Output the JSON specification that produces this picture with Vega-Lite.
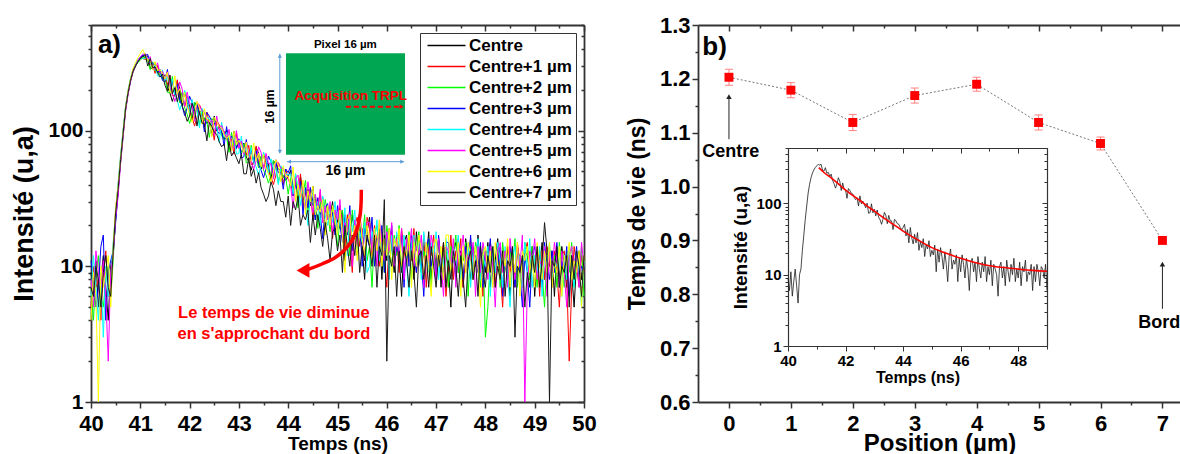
{
"$schema": "https://vega.github.io/schema/vega-lite/v6.json",
"background": "white",
"padding": {"left": 10, "top": 14, "right": 0, "bottom": 0},
"bounds": "flush",
"spacing": 114,
"resolve": {"scale": {"color": "independent"}, "legend": {"color": "independent"}},
"config": {
 "font": "Liberation Sans",
 "view": {"stroke": null},
 "axis": {"grid": false, "labelFlush": false, "labelOverlap": false, "domainColor": "#333333", "tickColor": "#333333", "domainWidth": 1.8, "tickWidth": 1.5, "labelColor": "black", "titleColor": "black", "labelFontWeight": "bold", "titleFontWeight": "bold", "labelFont": "Liberation Sans", "titleFont": "Liberation Sans", "labelPadding": 2},
 "text": {"font": "Liberation Sans", "fontWeight": "bold", "color": "black"}
},
"datasets": {
"curves": [
{"t":40,"c0":9,"c1":5,"c2":7,"c3":11,"c4":6,"c5":8,"c6":4,"c7":7},
{"t":40.05,"c0":6,"c1":10,"c2":4,"c3":8,"c4":12,"c5":5,"c6":9,"c7":6},
{"t":40.1,"c0":11,"c1":7,"c2":9,"c3":5,"c4":7,"c5":13,"c6":6,"c7":10},
{"t":40.15,"c0":5,"c1":8,"c2":12,"c3":7,"c4":4,"c5":9,"c6":1,"c7":8},
{"t":40.2,"c0":8,"c1":4,"c2":6,"c3":14,"c4":9,"c5":7,"c6":10,"c7":5},
{"t":40.25,"c0":12,"c1":9,"c2":5,"c3":17,"c4":3,"c5":11,"c6":7,"c7":9},
{"t":40.3,"c0":7,"c1":13,"c2":8,"c3":4,"c4":10,"c5":6,"c6":9,"c7":12},
{"t":40.35,"c0":4,"c1":6,"c2":10,"c3":9,"c4":6,"c5":2,"c6":12,"c7":7},
{"t":40.4,"c0":10,"c1":8,"c2":6,"c3":11,"c4":8,"c5":9,"c6":5,"c7":6},
{"t":40.45,"c0":12,"c1":14,"c2":11,"c3":13,"c4":15,"c5":12,"c6":14,"c7":13},
{"t":40.5,"c0":22,"c1":26,"c2":24,"c3":21,"c4":25,"c5":23,"c6":27,"c7":25},
{"t":40.55,"c0":36,"c1":40,"c2":38,"c3":35,"c4":41,"c5":33,"c6":39,"c7":37},
{"t":40.6,"c0":60,"c1":64,"c2":58,"c3":62,"c4":66,"c5":57,"c6":63,"c7":61},
{"t":40.65,"c0":92,"c1":98,"c2":90,"c3":96,"c4":100,"c5":88,"c6":97,"c7":94},
{"t":40.7,"c0":140,"c1":148,"c2":142,"c3":145,"c4":150,"c5":138,"c6":147,"c7":144},
{"t":40.75,"c0":186,"c1":194,"c2":188,"c3":190,"c4":197,"c5":183,"c6":195,"c7":189},
{"t":40.8,"c0":230,"c1":238,"c2":232,"c3":236,"c4":242,"c5":228,"c6":240,"c7":233},
{"t":40.85,"c0":268,"c1":278,"c2":272,"c3":275,"c4":282,"c5":270,"c6":285,"c7":274},
{"t":40.9,"c0":296,"c1":305,"c2":298,"c3":302,"c4":310,"c5":300,"c6":315,"c7":299},
{"t":40.95,"c0":320,"c1":330,"c2":318,"c3":326,"c4":335,"c5":328,"c6":345,"c7":322},
{"t":41,"c0":338,"c1":345,"c2":330,"c3":342,"c4":352,"c5":350,"c6":370,"c7":340},
{"t":41.05,"c0":355,"c1":340,"c2":346,"c3":360,"c4":338,"c5":365,"c6":395,"c7":352},
{"t":41.1,"c0":345,"c1":335,"c2":350,"c3":358,"c4":342,"c5":370,"c6":360,"c7":365},
{"t":41.15,"c0":355,"c1":330,"c2":329,"c3":365,"c4":347,"c5":335,"c6":331,"c7":299},
{"t":41.2,"c0":293,"c1":309,"c2":281,"c3":311,"c4":319,"c5":351,"c6":330,"c7":340},
{"t":41.25,"c0":284,"c1":308,"c2":321,"c3":315,"c4":293,"c5":290,"c6":282,"c7":290},
{"t":41.3,"c0":318,"c1":264,"c2":275,"c3":290,"c4":307,"c5":282,"c6":322,"c7":294},
{"t":41.35,"c0":265,"c1":302,"c2":279,"c3":267,"c4":254,"c5":316,"c6":276,"c7":269},
{"t":41.4,"c0":274,"c1":260,"c2":258,"c3":282,"c4":249,"c5":265,"c6":282,"c7":248},
{"t":41.45,"c0":240,"c1":265,"c2":238,"c3":234,"c4":280,"c5":273,"c6":260,"c7":261},
{"t":41.5,"c0":258,"c1":245,"c2":252,"c3":229,"c4":235,"c5":240,"c6":241,"c7":216},
{"t":41.55,"c0":210,"c1":218,"c2":191,"c3":282,"c4":250,"c5":271,"c6":269,"c7":195},
{"t":41.6,"c0":190,"c1":253,"c2":190,"c3":207,"c4":198,"c5":210,"c6":192,"c7":257},
{"t":41.65,"c0":164,"c1":181,"c2":251,"c3":230,"c4":240,"c5":190,"c6":192,"c7":187},
{"t":41.7,"c0":188,"c1":181,"c2":184,"c3":183,"c4":185,"c5":164,"c6":253,"c7":207},
{"t":41.75,"c0":230,"c1":237,"c2":203,"c3":219,"c4":167,"c5":186,"c6":185,"c7":163},
{"t":41.8,"c0":204,"c1":172,"c2":160,"c3":168,"c4":142,"c5":228,"c6":203,"c7":196},
{"t":41.85,"c0":152,"c1":190,"c2":192,"c3":151,"c4":162,"c5":202,"c6":160,"c7":151},
{"t":41.9,"c0":194,"c1":149,"c2":147,"c3":129,"c4":198,"c5":151,"c6":192,"c7":136},
{"t":41.95,"c0":159,"c1":179,"c2":132,"c3":147,"c4":176,"c5":192,"c6":148,"c7":117},
{"t":42,"c0":155,"c1":138,"c2":113,"c3":179,"c4":131,"c5":158,"c6":132,"c7":128},
{"t":42.05,"c0":118,"c1":126,"c2":131,"c3":162,"c4":170,"c5":156,"c6":115,"c7":159},
{"t":42.1,"c0":162,"c1":108,"c2":162,"c3":122,"c4":141,"c5":117,"c6":132,"c7":143},
{"t":42.15,"c0":152,"c1":125,"c2":146,"c3":158,"c4":139,"c5":163,"c6":164,"c7":108},
{"t":42.2,"c0":139,"c1":155,"c2":110,"c3":131,"c4":105,"c5":152,"c6":148,"c7":138},
{"t":42.25,"c0":136,"c1":141,"c2":143,"c3":130,"c4":146,"c5":140,"c6":112,"c7":114},
{"t":42.3,"c0":121,"c1":106,"c2":119,"c3":98,"c4":136,"c5":136,"c6":145,"c7":112},
{"t":42.35,"c0":113,"c1":137,"c2":117,"c3":136,"c4":125,"c5":121,"c6":121,"c7":84},
{"t":42.4,"c0":120,"c1":114,"c2":89,"c3":128,"c4":122,"c5":113,"c6":119,"c7":115},
{"t":42.45,"c0":92,"c1":113,"c2":123,"c3":117,"c4":109,"c5":120,"c6":90,"c7":107},
{"t":42.5,"c0":128,"c1":85,"c2":115,"c3":114,"c4":102,"c5":92,"c6":125,"c7":97},
{"t":42.55,"c0":99,"c1":118,"c2":106,"c3":101,"c4":107,"c5":128,"c6":117,"c7":94},
{"t":42.6,"c0":108,"c1":111,"c2":103,"c3":95,"c4":82,"c5":100,"c6":107,"c7":83},
{"t":42.65,"c0":97,"c1":102,"c2":92,"c3":100,"c4":115,"c5":109,"c6":104,"c7":76},
{"t":42.7,"c0":87,"c1":99,"c2":85,"c3":77,"c4":89,"c5":97,"c6":93,"c7":80},
{"t":42.75,"c0":101,"c1":88,"c2":90,"c3":107,"c4":97,"c5":87,"c6":87,"c7":60},
{"t":42.8,"c0":73,"c1":82,"c2":69,"c3":83,"c4":87,"c5":102,"c6":92,"c7":83},
{"t":42.85,"c0":74,"c1":87,"c2":97,"c3":91,"c4":79,"c5":74,"c6":71,"c7":65},
{"t":42.9,"c0":99,"c1":67,"c2":76,"c3":82,"c4":92,"c5":75,"c6":99,"c7":70},
{"t":42.95,"c0":74,"c1":95,"c2":84,"c3":74,"c4":67,"c5":100,"c6":78,"c7":63},
{"t":43,"c0":83,"c1":74,"c2":75,"c3":87,"c4":68,"c5":74,"c6":85,"c7":57},
{"t":43.05,"c0":67,"c1":82,"c2":68,"c3":63,"c4":91,"c5":84,"c6":77,"c7":67},
{"t":43.1,"c0":81,"c1":73,"c2":80,"c3":64,"c4":67,"c5":67,"c6":69,"c7":48},
{"t":43.15,"c0":64,"c1":66,"c2":58,"c3":86,"c4":76,"c5":82,"c6":82,"c7":48},
{"t":43.2,"c0":59,"c1":78,"c2":59,"c3":64,"c4":61,"c5":65,"c6":59,"c7":63},
{"t":43.25,"c0":51,"c1":56,"c2":78,"c3":72,"c4":75,"c5":59,"c6":60,"c7":46},
{"t":43.3,"c0":60,"c1":58,"c2":59,"c3":58,"c4":59,"c5":52,"c6":81,"c7":52},
{"t":43.35,"c0":75,"c1":77,"c2":66,"c3":71,"c4":54,"c5":60,"c6":60,"c7":41},
{"t":43.4,"c0":68,"c1":57,"c2":53,"c3":56,"c4":47,"c5":76,"c6":68,"c7":49},
{"t":43.45,"c0":52,"c1":64,"c2":65,"c3":51,"c4":55,"c5":69,"c6":54,"c7":38},
{"t":43.5,"c0":68,"c1":52,"c2":51,"c3":45,"c4":69,"c5":52,"c6":67,"c7":34},
{"t":43.55,"c0":57,"c1":64,"c2":47,"c3":52,"c4":63,"c5":68,"c6":53,"c7":30},
{"t":43.6,"c0":57,"c1":50,"c2":41,"c3":65,"c4":48,"c5":57,"c6":48,"c7":33},
{"t":43.65,"c0":43,"c1":46,"c2":48,"c3":59,"c4":62,"c5":57,"c6":42,"c7":42},
{"t":43.7,"c0":60,"c1":40,"c2":60,"c3":45,"c4":52,"c5":44,"c6":49,"c7":37},
{"t":43.75,"c0":57,"c1":47,"c2":55,"c3":59,"c4":52,"c5":61,"c6":61,"c7":28},
{"t":43.8,"c0":52,"c1":58,"c2":41,"c3":49,"c4":40,"c5":57,"c6":56,"c7":36},
{"t":43.85,"c0":51,"c1":53,"c2":54,"c3":49,"c4":55,"c5":53,"c6":42,"c7":30},
{"t":43.9,"c0":46,"c1":40,"c2":45,"c3":37,"c4":52,"c5":52,"c6":55,"c7":30},
{"t":43.95,"c0":43,"c1":52,"c2":45,"c3":52,"c4":48,"c5":46,"c6":46,"c7":23},
{"t":44,"c0":46,"c1":44,"c2":34,"c3":49,"c4":47,"c5":44,"c6":46,"c7":33},
{"t":44.05,"c0":51,"c1":41,"c2":45,"c3":55,"c4":48,"c5":39,"c6":39,"c7":20},
{"t":44.1,"c0":35,"c1":33,"c2":36,"c3":33,"c4":34,"c5":27,"c6":54,"c7":30},
{"t":44.15,"c0":43,"c1":45,"c2":48,"c3":40,"c4":48,"c5":44,"c6":30,"c7":26},
{"t":44.2,"c0":28,"c1":34,"c2":27,"c3":35,"c4":38,"c5":47,"c6":40,"c7":33},
{"t":44.25,"c0":46,"c1":48,"c2":40,"c3":42,"c4":28,"c5":32,"c6":32,"c7":20},
{"t":44.3,"c0":33,"c1":27,"c2":34,"c3":24,"c4":40,"c5":39,"c6":43,"c7":24},
{"t":44.35,"c0":27,"c1":35,"c2":43,"c3":38,"c4":30,"c5":26,"c6":24,"c7":22},
{"t":44.4,"c0":37,"c1":28,"c2":26,"c3":27,"c4":20,"c5":42,"c6":36,"c7":26},
{"t":44.45,"c0":28,"c1":38,"c2":32,"c3":38,"c4":33,"c5":31,"c6":30,"c7":15},
{"t":44.5,"c0":39,"c1":22,"c2":28,"c3":30,"c4":36,"c5":25,"c6":39,"c7":24},
{"t":44.55,"c0":22,"c1":32,"c2":34,"c3":22,"c4":25,"c5":34,"c6":24,"c7":17},
{"t":44.6,"c0":29,"c1":27,"c2":19,"c3":32,"c4":30,"c5":26,"c6":28,"c7":24},
{"t":44.65,"c0":24,"c1":35,"c2":30,"c3":24,"c4":20,"c5":37,"c6":25,"c7":19},
{"t":44.7,"c0":32,"c1":21,"c2":22,"c3":16,"c4":33,"c5":21,"c6":31,"c7":14},
{"t":44.75,"c0":18,"c1":26,"c2":31,"c3":27,"c4":24,"c5":28,"c6":17,"c7":21},
{"t":44.8,"c0":27,"c1":23,"c2":25,"c3":29,"c4":20,"c5":22,"c6":28,"c7":16},
{"t":44.85,"c0":23,"c1":28,"c2":18,"c3":20,"c4":27,"c5":30,"c6":20,"c7":11},
{"t":44.9,"c0":30,"c1":16,"c2":27,"c3":25,"c4":21,"c5":17,"c6":28,"c7":18},
{"t":44.95,"c0":18,"c1":25,"c2":20,"c3":17,"c4":30,"c5":26,"c6":22,"c7":19},
{"t":45,"c0":22,"c1":18,"c2":14,"c3":28,"c4":17,"c5":22,"c6":17,"c7":13},
{"t":45.05,"c0":19,"c1":28,"c2":23,"c3":20,"c4":23,"c5":31,"c6":26,"c7":17},
{"t":45.1,"c0":26,"c1":21,"c2":26,"c3":15,"c4":17,"c5":16,"c6":17,"c7":9},
{"t":45.15,"c0":11,"c1":13,"c2":16,"c3":24,"c4":27,"c5":21,"c6":9,"c7":20},
{"t":45.2,"c0":23,"c1":24,"c2":22,"c3":17,"c4":12,"c5":18,"c6":22,"c7":14},
{"t":45.25,"c0":15,"c1":16,"c2":12,"c3":28,"c4":22,"c5":25,"c6":24,"c7":10},
{"t":45.3,"c0":24,"c1":9,"c2":26,"c3":13,"c4":18,"c5":10,"c6":15,"c7":17},
{"t":45.35,"c0":18,"c1":20,"c2":17,"c3":20,"c4":26,"c5":22,"c6":20,"c7":12},
{"t":45.4,"c0":12,"c1":23,"c2":13,"c3":15,"c4":13,"c5":14,"c6":11,"c7":20},
{"t":45.45,"c0":21,"c1":14,"c2":21,"c3":23,"c4":18,"c5":24,"c6":24,"c7":9},
{"t":45.5,"c0":14,"c1":19,"c2":15,"c3":10,"c4":15,"c5":18,"c6":16,"c7":14},
{"t":45.55,"c0":8,"c1":11,"c2":24,"c3":19,"c4":21,"c5":11,"c6":12,"c7":11},
{"t":45.6,"c0":18,"c1":23,"c2":11,"c3":16,"c4":9,"c5":21,"c6":20,"c7":17},
{"t":45.65,"c0":23,"c1":19,"c2":14,"c3":14,"c4":10,"c5":21,"c6":15,"c7":14},
{"t":45.7,"c0":12,"c1":12,"c2":7,"c3":23,"c4":18,"c5":13,"c6":11,"c7":10},
{"t":45.75,"c0":16,"c1":20,"c2":17,"c3":10,"c4":15,"c5":18,"c6":19,"c7":17},
{"t":45.8,"c0":14,"c1":15,"c2":20,"c3":16,"c4":22,"c5":10,"c6":13,"c7":7},
{"t":45.85,"c0":19,"c1":10,"c2":12,"c3":12,"c4":11,"c5":22,"c6":22,"c7":14},
{"t":45.9,"c0":8,"c1":18,"c2":17,"c3":20,"c4":15,"c5":15,"c6":10,"c7":12},
{"t":45.95,"c0":17,"c1":12,"c2":9,"c3":9,"c4":13,"c5":11,"c6":16,"c7":31},
{"t":46,"c0":11,"c1":7,"c2":20,"c3":17,"c4":18,"c5":18,"c6":12,"c7":2},
{"t":46.05,"c0":19,"c1":16,"c2":14,"c3":14,"c4":8,"c5":13,"c6":19,"c7":12},
{"t":46.1,"c0":14,"c1":18,"c2":10,"c3":20,"c4":17,"c5":21,"c6":8,"c7":10},
{"t":46.15,"c0":9,"c1":11,"c2":17,"c3":10,"c4":11,"c5":10,"c6":16,"c7":14},
{"t":46.2,"c0":17,"c1":16,"c2":12,"c3":14,"c4":18,"c5":16,"c6":14,"c7":6},
{"t":46.25,"c0":12,"c1":9,"c2":20,"c3":12,"c4":14,"c5":12,"c6":19,"c7":13},
{"t":46.3,"c0":6,"c1":19,"c2":9,"c3":17,"c4":9,"c5":19,"c6":10,"c7":9},
{"t":46.35,"c0":15,"c1":13,"c2":15,"c3":7,"c4":17,"c5":8,"c6":14,"c7":14},
{"t":46.4,"c0":17,"c1":10,"c2":11,"c3":16,"c4":11,"c5":16,"c6":12,"c7":11},
{"t":46.45,"c0":11,"c1":16,"c2":18,"c3":10,"c4":6,"c5":13,"c6":17,"c7":7},
{"t":46.5,"c0":15,"c1":11,"c2":8,"c3":17,"c4":15,"c5":19,"c6":7,"c7":13},
{"t":46.55,"c0":8,"c1":19,"c2":15,"c3":13,"c4":17,"c5":10,"c6":15,"c7":9},
{"t":46.6,"c0":18,"c1":9,"c2":13,"c3":9,"c4":10,"c5":14,"c6":10,"c7":5},
{"t":46.65,"c0":12,"c1":14,"c2":18,"c3":16,"c4":15,"c5":12,"c6":17,"c7":12},
{"t":46.7,"c0":9,"c1":10,"c2":9,"c3":11,"c4":8,"c5":17,"c6":13,"c7":13},
{"t":46.75,"c0":15,"c1":17,"c2":13,"c3":6,"c4":18,"c5":7,"c6":8,"c7":8},
{"t":46.8,"c0":11,"c1":7,"c2":11,"c3":14,"c4":12,"c5":15,"c6":15,"c7":12},
{"t":46.85,"c0":18,"c1":14,"c2":16,"c3":16,"c4":9,"c5":10,"c6":10,"c7":7},
{"t":46.9,"c0":8,"c1":12,"c2":7,"c3":10,"c4":15,"c5":17,"c6":6,"c7":14},
{"t":46.95,"c0":13,"c1":17,"c2":14,"c3":14,"c4":11,"c5":13,"c6":14,"c7":10},
{"t":47,"c0":10,"c1":9,"c2":9,"c3":8,"c4":18,"c5":8,"c6":16,"c7":7},
{"t":47.05,"c0":16,"c1":12,"c2":16,"c3":17,"c4":8,"c5":16,"c6":10,"c7":12},
{"t":47.1,"c0":7,"c1":11,"c2":12,"c3":11,"c4":13,"c5":11,"c6":14,"c7":9},
{"t":47.15,"c0":14,"c1":15,"c2":8,"c3":9,"c4":10,"c5":6,"c6":8,"c7":15},
{"t":47.2,"c0":12,"c1":6,"c2":15,"c3":15,"c4":16,"c5":14,"c6":17,"c7":7},
{"t":47.25,"c0":10,"c1":10,"c2":7,"c3":15,"c4":11,"c5":13,"c6":17,"c7":11},
{"t":47.3,"c0":5,"c1":17,"c2":14,"c3":10,"c4":9,"c5":10,"c6":9,"c7":8},
{"t":47.35,"c0":13,"c1":8,"c2":12,"c3":13,"c4":14,"c5":16,"c6":12,"c7":13},
{"t":47.4,"c0":15,"c1":13,"c2":17,"c3":8,"c4":10,"c5":7,"c6":11,"c7":10},
{"t":47.45,"c0":9,"c1":10,"c2":9,"c3":16,"c4":17,"c5":14,"c6":15,"c7":6},
{"t":47.5,"c0":13,"c1":16,"c2":12,"c3":11,"c4":8,"c5":12,"c6":6,"c7":12},
{"t":47.55,"c0":7,"c1":7,"c2":11,"c3":8,"c4":13,"c5":17,"c6":14,"c7":8},
{"t":47.6,"c0":16,"c1":13,"c2":15,"c3":14,"c4":10,"c5":9,"c6":9,"c7":5},
{"t":47.65,"c0":11,"c1":11,"c2":6,"c3":10,"c4":15,"c5":12,"c6":15,"c7":11},
{"t":47.7,"c0":8,"c1":16,"c2":14,"c3":17,"c4":7,"c5":11,"c6":12,"c7":13},
{"t":47.75,"c0":14,"c1":8,"c2":9,"c3":8,"c4":13,"c5":15,"c6":8,"c7":8},
{"t":47.8,"c0":10,"c1":12,"c2":15,"c3":12,"c4":11,"c5":6,"c6":14,"c7":11},
{"t":47.85,"c0":17,"c1":10,"c2":11,"c3":9,"c4":16,"c5":14,"c6":10,"c7":6},
{"t":47.9,"c0":8,"c1":14,"c2":7,"c3":15,"c4":8,"c5":9,"c6":5,"c7":14},
{"t":47.95,"c0":12,"c1":6,"c2":14,"c3":7,"c4":12,"c5":15,"c6":12,"c7":9},
{"t":48,"c0":9,"c1":13,"c2":3,"c3":13,"c4":10,"c5":12,"c6":14,"c7":7},
{"t":48.05,"c0":15,"c1":9,"c2":5,"c3":11,"c4":14,"c5":8,"c6":9,"c7":12},
{"t":48.1,"c0":7,"c1":15,"c2":12,"c3":16,"c4":6,"c5":14,"c6":13,"c7":9},
{"t":48.15,"c0":13,"c1":11,"c2":14,"c3":8,"c4":13,"c5":10,"c6":7,"c7":14},
{"t":48.2,"c0":11,"c1":7,"c2":9,"c3":11,"c4":9,"c5":5,"c6":15,"c7":7},
{"t":48.25,"c0":16,"c1":14,"c2":13,"c3":10,"c4":15,"c5":13,"c6":10,"c7":10},
{"t":48.3,"c0":8,"c1":9,"c2":7,"c3":14,"c4":11,"c5":15,"c6":8,"c7":8},
{"t":48.35,"c0":11,"c1":5,"c2":15,"c3":6,"c4":7,"c5":9,"c6":13,"c7":13},
{"t":48.4,"c0":10,"c1":12,"c2":10,"c3":13,"c4":14,"c5":13,"c6":10,"c7":6},
{"t":48.45,"c0":14,"c1":14,"c2":8,"c3":8,"c4":9,"c5":7,"c6":16,"c7":11},
{"t":48.5,"c0":6,"c1":9,"c2":13,"c3":14,"c4":5,"c5":16,"c6":7,"c7":10},
{"t":48.55,"c0":13,"c1":12,"c2":10,"c3":11,"c4":12,"c5":11,"c6":12,"c7":14},
{"t":48.6,"c0":8,"c1":7,"c2":16,"c3":7,"c4":14,"c5":8,"c6":9,"c7":3},
{"t":48.65,"c0":14,"c1":15,"c2":7,"c3":13,"c4":9,"c5":14,"c6":15,"c7":10},
{"t":48.7,"c0":11,"c1":10,"c2":12,"c3":9,"c4":12,"c5":10,"c6":6,"c7":9},
{"t":48.75,"c0":7,"c1":8,"c2":9,"c3":5,"c4":7,"c5":17,"c6":13,"c7":12},
{"t":48.8,"c0":13,"c1":13,"c2":15,"c3":12,"c4":15,"c5":1,"c6":11,"c7":5},
{"t":48.85,"c0":12,"c1":15,"c2":13,"c3":9,"c4":9,"c5":7,"c6":14,"c7":9},
{"t":48.9,"c0":9,"c1":8,"c2":8,"c3":5,"c4":16,"c5":13,"c6":9,"c7":7},
{"t":48.95,"c0":14,"c1":11,"c2":14,"c3":12,"c4":7,"c5":11,"c6":12,"c7":12},
{"t":49,"c0":6,"c1":10,"c2":11,"c3":14,"c4":12,"c5":16,"c6":7,"c7":9},
{"t":49.05,"c0":12,"c1":13,"c2":7,"c3":9,"c4":9,"c5":8,"c6":15,"c7":14},
{"t":49.1,"c0":10,"c1":6,"c2":13,"c3":12,"c4":14,"c5":11,"c6":10,"c7":7},
{"t":49.15,"c0":15,"c1":13,"c2":9,"c3":7,"c4":6,"c5":10,"c6":8,"c7":11},
{"t":49.2,"c0":8,"c1":8,"c2":5,"c3":15,"c4":12,"c5":14,"c6":13,"c7":21},
{"t":49.25,"c0":11,"c1":14,"c2":12,"c3":10,"c4":10,"c5":6,"c6":9,"c7":13},
{"t":49.3,"c0":10,"c1":11,"c2":14,"c3":8,"c4":15,"c5":13,"c6":15,"c7":1},
{"t":49.35,"c0":13,"c1":7,"c2":9,"c3":13,"c4":8,"c5":9,"c6":7,"c7":11},
{"t":49.4,"c0":6,"c1":13,"c2":12,"c3":9,"c4":11,"c5":15,"c6":11,"c7":10},
{"t":49.45,"c0":13,"c1":9,"c2":7,"c3":15,"c4":10,"c5":11,"c6":9,"c7":14},
{"t":49.5,"c0":8,"c1":5,"c2":15,"c3":7,"c4":13,"c5":7,"c6":14,"c7":7},
{"t":49.55,"c0":14,"c1":12,"c2":10,"c3":11,"c4":6,"c5":13,"c6":6,"c7":10},
{"t":49.6,"c0":10,"c1":13,"c2":7,"c3":9,"c4":12,"c5":9,"c6":12,"c7":9},
{"t":49.65,"c0":7,"c1":8,"c2":13,"c3":14,"c4":8,"c5":5,"c6":10,"c7":12},
{"t":49.7,"c0":13,"c1":2,"c2":9,"c3":6,"c4":14,"c5":12,"c6":15,"c7":5},
{"t":49.75,"c0":9,"c1":7,"c2":15,"c3":12,"c4":10,"c5":14,"c6":8,"c7":12},
{"t":49.8,"c0":5,"c1":14,"c2":7,"c3":10,"c4":7,"c5":9,"c6":11,"c7":8},
{"t":49.85,"c0":11,"c1":10,"c2":11,"c3":14,"c4":13,"c5":12,"c6":9,"c7":13},
{"t":49.9,"c0":13,"c1":7,"c2":8,"c3":8,"c4":9,"c5":7,"c6":13,"c7":10},
{"t":49.95,"c0":8,"c1":12,"c2":14,"c3":10,"c4":5,"c5":15,"c6":5,"c7":6},
{"t":50,"c0":12,"c1":9,"c2":6,"c3":9,"c4":11,"c5":10,"c6":12,"c7":12}
],
"fit": [
{"t":41.07,"v":318},{"t":41.25,"v":272},{"t":41.5,"v":228},{"t":41.75,"v":188},{"t":42,"v":154},{"t":42.25,"v":130},{"t":42.5,"v":110},{"t":42.75,"v":92},{"t":43,"v":78},{"t":43.25,"v":66},{"t":43.5,"v":56},{"t":43.75,"v":48},{"t":44,"v":41},{"t":44.5,"v":31},{"t":45,"v":24},{"t":45.5,"v":20},{"t":46,"v":17},{"t":46.5,"v":14.8},{"t":47,"v":13.4},{"t":47.5,"v":12.6},{"t":48,"v":12},{"t":48.5,"v":11.5},{"t":49,"v":11.2}
],
"life": [
{"pos":0,"tau":1.203,"lo":1.188,"hi":1.218},
{"pos":1,"tau":1.179,"lo":1.165,"hi":1.193},
{"pos":2,"tau":1.119,"lo":1.104,"hi":1.134},
{"pos":3,"tau":1.169,"lo":1.155,"hi":1.183},
{"pos":4,"tau":1.19,"lo":1.177,"hi":1.203},
{"pos":5,"tau":1.119,"lo":1.105,"hi":1.133},
{"pos":6,"tau":1.08,"lo":1.068,"hi":1.092},
{"pos":7,"tau":0.9,"lo":0.898,"hi":0.902}
]
},
"hconcat": [
{
 "width": 493, "height": 377,
 "resolve": {"axis": {"x": "independent", "y": "independent"}},
 "layer": [
  {
   "data": {"name": "curves"},
   "transform": [{"fold": ["c0","c1","c2","c3","c4","c5","c6","c7"], "as": ["key","v"]}],
   "mark": {"type": "line", "strokeWidth": 1},
   "encoding": {
    "x": {"field": "t", "type": "quantitative", "scale": {"domain": [40,50], "nice": false, "zero": false},
     "axis": {"orient": "bottom", "values": [40,40.5,41,41.5,42,42.5,43,43.5,44,44.5,45,45.5,46,46.5,47,47.5,48,48.5,49,49.5,50], "labelExpr": "datum.value % 1 == 0 ? format(datum.value, 'd') : ''", "tickSize": {"condition": {"test": "datum.value % 1 == 0", "value": 6}, "value": 3}, "labelFontSize": 22, "labelPadding": 5, "title": "Temps (ns)", "titleFontSize": 19, "titlePadding": 0}},
    "y": {"field": "v", "type": "quantitative", "scale": {"type": "log", "domain": [1,600], "nice": false},
     "axis": {"orient": "left", "values": [1,2,3,4,5,6,7,8,9,10,20,30,40,50,60,70,80,90,100,200,300,400,500,600], "labelExpr": "indexof([1, 10, 100], datum.value) >= 0 ? format(datum.value, 'd') : ''", "tickSize": {"condition": {"test": "indexof([1, 10, 100], datum.value) >= 0", "value": 6}, "value": 3}, "labelFontSize": 21, "title": "Intensité (u,a)", "titleFontSize": 27, "titlePadding": 9}},
    "color": {"field": "key", "type": "nominal",
     "scale": {"domain": ["c0","c1","c2","c3","c4","c5","c6","c7"], "range": ["#000000","#ff0000","#00ff00","#0000ff","#00ffff","#ff00ff","#ffff00","#1a1a1a"]},
     "legend": {"title": null, "orient": "top-right", "offset": 8, "labelExpr": "datum.value == 'c0' ? 'Centre' : 'Centre+' + substring(datum.value, 1) + ' µm'", "symbolType": "M-4,0H4", "symbolSize": 90, "symbolStrokeWidth": 1.3, "symbolOffset": 14, "labelOffset": 14, "labelFontSize": 17, "labelFontWeight": "bold", "labelColor": "black", "labelFont": "Liberation Sans", "strokeColor": "#333333", "fillColor": "white", "padding": 4, "rowPadding": 3, "labelLimit": 300}}
   }
  },
  {
   "data": {"values": [{}]},
   "mark": {"type": "text", "text": "a)", "fontSize": 26, "align": "left", "baseline": "middle", "color": "black"},
   "encoding": {
    "x": {"datum": 40.14, "axis": {"orient": "top", "values": [40,40.5,41,41.5,42,42.5,43,43.5,44,44.5,45,45.5,46,46.5,47,47.5,48,48.5,49,49.5,50], "labels": false, "title": null, "tickSize": {"condition": {"test": "datum.value % 1 == 0", "value": -6}, "value": -3}}},
    "y": {"datum": 424, "scale": {"type": "log"}, "axis": {"orient": "right", "values": [1,2,3,4,5,6,7,8,9,10,20,30,40,50,60,70,80,90,100,200,300,400,500,600], "labels": false, "title": null, "tickSize": {"condition": {"test": "indexof([1, 10, 100], datum.value) >= 0", "value": -6}, "value": -3}}}
   }
  },
  {
   "data": {"values": [{}]},
   "mark": {"type": "rect", "color": "#00a651"},
   "encoding": {"x": {"datum": 43.955, "axis": null}, "x2": {"datum": 46.37}, "y": {"datum": 66.5, "scale": {"type": "log"}, "axis": null}, "y2": {"datum": 372}}
  },
  {
   "data": {"values": [{}]},
   "mark": {"type": "rule", "color": "#5b9bd5", "strokeWidth": 1},
   "encoding": {"x": {"datum": 43.83, "axis": null}, "y": {"datum": 68, "scale": {"type": "log"}, "axis": null}, "y2": {"datum": 368}}
  },
  {
   "data": {"values": [{}]},
   "mark": {"type": "rule", "color": "#5b9bd5", "strokeWidth": 1},
   "encoding": {"x": {"datum": 43.97, "axis": null}, "x2": {"datum": 46.35}, "y": {"datum": 59, "scale": {"type": "log"}, "axis": null}}
  },
  {
   "data": {"values": [{}]},
   "mark": {"type": "point", "shape": "triangle-up", "size": 18, "filled": true, "color": "#5b9bd5", "opacity": 1},
   "encoding": {"x": {"datum": 43.83, "axis": null}, "y": {"datum": 355, "scale": {"type": "log"}, "axis": null}}
  },
  {
   "data": {"values": [{}]},
   "mark": {"type": "point", "shape": "triangle-down", "size": 18, "filled": true, "color": "#5b9bd5", "opacity": 1},
   "encoding": {"x": {"datum": 43.83, "axis": null}, "y": {"datum": 70, "scale": {"type": "log"}, "axis": null}}
  },
  {
   "data": {"values": [{}]},
   "mark": {"type": "point", "shape": "triangle-left", "size": 18, "filled": true, "color": "#5b9bd5", "opacity": 1},
   "encoding": {"x": {"datum": 44.02, "axis": null}, "y": {"datum": 59, "scale": {"type": "log"}, "axis": null}}
  },
  {
   "data": {"values": [{}]},
   "mark": {"type": "point", "shape": "triangle-right", "size": 18, "filled": true, "color": "#5b9bd5", "opacity": 1},
   "encoding": {"x": {"datum": 46.31, "axis": null}, "y": {"datum": 59, "scale": {"type": "log"}, "axis": null}}
  },
  {
   "data": {"values": [{}]},
   "mark": {"type": "rule", "color": "#ff0000", "strokeWidth": 2, "strokeDash": [5, 3]},
   "encoding": {"x": {"datum": 45.17, "axis": null}, "x2": {"datum": 46.28}, "y": {"datum": 150, "scale": {"type": "log"}, "axis": null}}
  },
  {
   "data": {"values": [{}]},
   "mark": {"type": "point", "shape": "triangle-right", "size": 22, "filled": true, "color": "#ff0000", "opacity": 1},
   "encoding": {"x": {"datum": 46.3, "axis": null}, "y": {"datum": 150, "scale": {"type": "log"}, "axis": null}}
  },
  {
   "data": {"values": [{}]},
   "mark": {"type": "text", "text": "Pixel 16 µm", "fontSize": 11.5, "align": "center", "baseline": "middle", "color": "black"},
   "encoding": {"x": {"datum": 45.16, "axis": null}, "y": {"datum": 424, "scale": {"type": "log"}, "axis": null}}
  },
  {
   "data": {"values": [{}]},
   "mark": {"type": "text", "text": "16 µm", "fontSize": 14, "align": "center", "baseline": "middle", "color": "black"},
   "encoding": {"x": {"datum": 45.16, "axis": null}, "y": {"datum": 50, "scale": {"type": "log"}, "axis": null}}
  },
  {
   "data": {"values": [{}]},
   "mark": {"type": "text", "text": "16 µm", "fontSize": 12, "angle": 270, "align": "center", "baseline": "middle", "color": "black"},
   "encoding": {"x": {"datum": 43.63, "axis": null}, "y": {"datum": 150, "scale": {"type": "log"}, "axis": null}}
  },
  {
   "data": {"values": [{}]},
   "mark": {"type": "text", "text": "Acquisition TRPL", "fontSize": 13.5, "align": "center", "baseline": "middle", "color": "#ff0000"},
   "encoding": {"x": {"datum": 45.27, "axis": null}, "y": {"datum": 181, "scale": {"type": "log"}, "axis": null}}
  },
  {
   "data": {"values": [{"x":45.483,"y":36.7},{"x":45.462,"y":24.3},{"x":45.361,"y":17.3},{"x":45.193,"y":13.8},{"x":44.955,"y":11.6},{"x":44.686,"y":10.4},{"x":44.416,"y":9.54},{"x":44.3,"y":9.35}]},
   "mark": {"type": "line", "color": "#ff0000", "strokeWidth": 3.5, "interpolate": "cardinal"},
   "encoding": {"x": {"field": "x", "type": "quantitative", "axis": null}, "y": {"field": "y", "type": "quantitative", "scale": {"type": "log"}, "axis": null}}
  },
  {
   "data": {"values": [{}]},
   "mark": {"type": "point", "shape": "triangle-left", "size": 220, "filled": true, "color": "#ff0000", "opacity": 1},
   "encoding": {"x": {"datum": 44.3, "axis": null}, "y": {"datum": 9.33, "scale": {"type": "log"}, "axis": null}}
  },
  {
   "data": {"values": [{}]},
   "mark": {"type": "text", "text": "Le temps de vie diminue|en s'approchant du bord", "lineBreak": "|", "lineHeight": 21, "fontSize": 16.5, "align": "center", "baseline": "middle", "color": "#ff0000"},
   "encoding": {"x": {"datum": 43.71, "axis": null}, "y": {"datum": 4.54, "scale": {"type": "log"}, "axis": null}}
  }
 ]
},
{
 "width": 483, "height": 377,
 "resolve": {"scale": {"x": "independent", "y": "independent"}},
 "layer": [
  {
   "resolve": {"axis": {"x": "independent", "y": "independent"}},
   "layer": [
    {
     "data": {"name": "life"},
     "mark": {"type": "line", "color": "#777777", "strokeWidth": 1, "strokeDash": [2, 2]},
     "encoding": {
      "x": {"field": "pos", "type": "quantitative", "scale": {"domain": [-0.5, 7.3], "nice": false, "zero": false},
       "axis": {"orient": "bottom", "values": [0,0.5,1,1.5,2,2.5,3,3.5,4,4.5,5,5.5,6,6.5,7], "labelExpr": "datum.value % 1 == 0 ? format(datum.value, 'd') : ''", "tickSize": {"condition": {"test": "datum.value % 1 == 0", "value": 6}, "value": 3}, "labelFontSize": 22, "labelPadding": 5, "title": "Position (µm)", "titleFontSize": 24, "titlePadding": -3}},
      "y": {"field": "tau", "type": "quantitative", "scale": {"domain": [0.6, 1.3], "nice": false, "zero": false},
       "axis": {"orient": "left", "values": [0.6,0.65,0.7,0.75,0.8,0.85,0.9,0.95,1,1.05,1.1,1.15,1.2,1.25,1.3], "labelExpr": "abs(datum.value * 10 - round(datum.value * 10)) < 0.01 ? format(datum.value, '.1f') : ''", "tickSize": {"condition": {"test": "abs(datum.value * 10 - round(datum.value * 10)) < 0.01", "value": 6}, "value": 3}, "labelFontSize": 22, "title": "Temps de vie (ns)", "titleFontSize": 23, "titlePadding": 10}}
     }
    },
    {
     "data": {"values": [{}]},
     "mark": {"type": "text", "text": "b)", "fontSize": 26, "align": "left", "baseline": "middle", "color": "black"},
     "encoding": {
      "x": {"datum": -0.43, "axis": {"orient": "top", "values": [0,0.5,1,1.5,2,2.5,3,3.5,4,4.5,5,5.5,6,6.5,7], "labels": false, "title": null, "tickSize": {"condition": {"test": "datum.value % 1 == 0", "value": -6}, "value": -3}}},
      "y": {"datum": 1.259, "axis": null}
     }
    },
    {
     "data": {"name": "life"},
     "mark": {"type": "rule", "color": "#ff8080", "strokeWidth": 1},
     "encoding": {"x": {"field": "pos", "type": "quantitative", "axis": null}, "y": {"field": "lo", "type": "quantitative", "axis": null}, "y2": {"field": "hi"}}
    },
    {
     "data": {"name": "life"},
     "mark": {"type": "tick", "orient": "horizontal", "color": "#ff8080", "size": 8, "thickness": 1, "opacity": 1},
     "encoding": {"x": {"field": "pos", "type": "quantitative", "axis": null}, "y": {"field": "lo", "type": "quantitative", "axis": null}}
    },
    {
     "data": {"name": "life"},
     "mark": {"type": "tick", "orient": "horizontal", "color": "#ff8080", "size": 8, "thickness": 1, "opacity": 1},
     "encoding": {"x": {"field": "pos", "type": "quantitative", "axis": null}, "y": {"field": "hi", "type": "quantitative", "axis": null}}
    },
    {
     "data": {"name": "life"},
     "mark": {"type": "square", "color": "#ff0000", "size": 80, "filled": true, "opacity": 1},
     "encoding": {"x": {"field": "pos", "type": "quantitative", "axis": null}, "y": {"field": "tau", "type": "quantitative", "axis": null}}
    },
    {
     "data": {"values": [{"pos": 0, "y1": 1.088, "y2": 1.168}, {"pos": 7, "y1": 0.773, "y2": 0.857}]},
     "mark": {"type": "rule", "color": "#222222", "strokeWidth": 1},
     "encoding": {"x": {"field": "pos", "type": "quantitative", "axis": null}, "y": {"field": "y1", "type": "quantitative", "axis": null}, "y2": {"field": "y2"}}
    },
    {
     "data": {"values": [{"pos": 0, "tau": 1.167}, {"pos": 7, "tau": 0.856}]},
     "mark": {"type": "point", "shape": "triangle-up", "size": 30, "filled": true, "color": "#222222", "opacity": 1},
     "encoding": {"x": {"field": "pos", "type": "quantitative", "axis": null}, "y": {"field": "tau", "type": "quantitative", "axis": null}}
    },
    {
     "data": {"values": [{"pos": 0.03, "tau": 1.064, "s": "Centre"}, {"pos": 6.95, "tau": 0.747, "s": "Bord"}]},
     "mark": {"type": "text", "fontSize": 18, "align": "center", "baseline": "middle", "color": "black"},
     "encoding": {"x": {"field": "pos", "type": "quantitative", "axis": null}, "y": {"field": "tau", "type": "quantitative", "axis": null}, "text": {"field": "s"}}
    }
   ]
  },
  {
   "resolve": {"axis": {"x": "independent", "y": "independent"}},
   "layer": [
    {
     "data": {"name": "curves"},
     "transform": [{"filter": "datum.t <= 49"}],
     "mark": {"type": "line", "color": "#1a1a1a", "strokeWidth": 0.8},
     "encoding": {
      "x": {"field": "t", "type": "quantitative", "scale": {"domain": [40, 49], "range": [90, 349], "nice": false, "zero": false},
       "axis": {"orient": "bottom", "offset": -56, "values": [40,41,42,43,44,45,46,47,48,49], "labelExpr": "datum.value % 2 == 0 ? format(datum.value, 'd') : ''", "tickSize": {"condition": {"test": "datum.value % 2 == 0", "value": 5}, "value": 3}, "labelFontSize": 15, "title": "Temps (ns)", "titleFontSize": 16, "titlePadding": 1, "domainWidth": 1.2, "tickWidth": 1}},
      "y": {"field": "c0", "type": "quantitative", "scale": {"type": "log", "domain": [1, 600], "range": [321, 123], "nice": false},
       "axis": {"orient": "left", "offset": -90, "values": [1,2,3,4,5,6,7,8,9,10,20,30,40,50,60,70,80,90,100,200,300,400,500,600], "labelExpr": "indexof([1, 10, 100], datum.value) >= 0 ? format(datum.value, 'd') : ''", "tickSize": {"condition": {"test": "indexof([1, 10, 100], datum.value) >= 0", "value": 5}, "value": 3}, "labelFontSize": 15, "title": "Intensité (u,a)", "titleFontSize": 19, "titlePadding": 5, "domainWidth": 1.2, "tickWidth": 1}}
     }
    },
    {
     "data": {"name": "fit"},
     "mark": {"type": "line", "color": "#ff0000", "strokeWidth": 1.6, "interpolate": "monotone"},
     "encoding": {
      "x": {"field": "t", "type": "quantitative", "axis": {"orient": "top", "offset": -123, "values": [40,41,42,43,44,45,46,47,48,49], "labels": false, "title": null, "tickSize": {"condition": {"test": "datum.value % 2 == 0", "value": -5}, "value": -3}, "domainWidth": 1.2, "tickWidth": 1}},
      "y": {"field": "v", "type": "quantitative", "scale": {"type": "log"}, "axis": {"orient": "right", "offset": -134, "values": [1,2,3,4,5,6,7,8,9,10,20,30,40,50,60,70,80,90,100,200,300,400,500,600], "labels": false, "title": null, "tickSize": {"condition": {"test": "indexof([1, 10, 100], datum.value) >= 0", "value": -5}, "value": -3}, "domainWidth": 1.2, "tickWidth": 1}}
     }
    }
   ]
  }
 ]
}
]
}
